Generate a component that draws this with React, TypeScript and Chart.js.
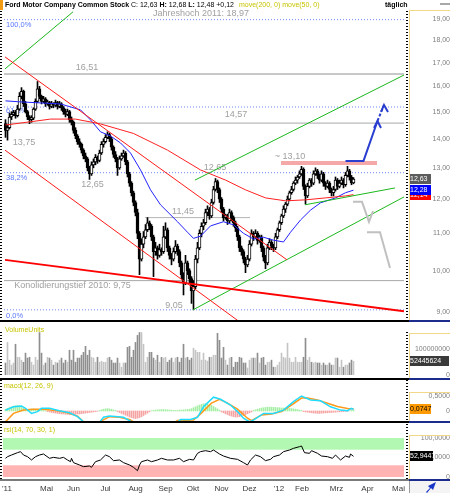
import React, { useEffect, useRef } from 'react';
import { Chart, registerables } from 'chart.js';

Chart.register(...registerables);
const FONT = 'Arial, "Liberation Sans", Helvetica, sans-serif';
Chart.defaults.font.family = FONT;

// ---------------- DATA ----------------
const opens = [14.55,14.30,14.40,14.80,14.90,14.95,14.85,15.10,15.60,15.80, 15.30,15.00,14.80,14.70,14.75,15.10,15.40,15.90,15.60,15.40, 15.50,15.30,15.35,15.20,15.30,15.25,15.35,15.20,15.30,15.15, 15.00,14.90,15.00,14.70,14.60,14.30,14.10,13.90,13.80,13.60, 13.40,13.30,13.00,12.80,13.10,13.20,13.35,13.25,13.50,13.80, 13.90,14.05,14.15,14.00,13.70,13.45,13.30,13.00,13.30,13.40, 13.50,13.20,12.80,12.50,12.20,11.90,11.60,11.00,10.30,10.70, 10.90,11.10,11.30,11.20,10.90,10.50,10.60,10.40,10.55,10.50, 10.90,11.10,10.60,10.40,10.30,10.50,10.65,10.50,10.20,9.90, 9.70,10.20,10.00,9.80,9.50,9.60,10.30,10.60,11.00,11.20, 11.30,11.60,11.70,11.50,11.90,12.30,12.55,12.30,12.00,11.70, 11.45,11.50,11.35,11.60,11.45,11.30,11.15,10.90,10.60,10.50, 10.30,10.15,10.30,10.70,11.00,10.90,11.00,10.80,10.90,10.60, 10.35,10.20,10.60,10.75,10.65,10.60,10.90,11.10,11.30,11.50, 11.70,11.85,12.00,12.20,12.30,12.50,12.60,12.70,12.80,12.95, 12.40,12.10,12.40,12.60,12.50,12.80,12.90,12.75,12.60,12.80, 12.50,12.40,12.50,12.30,12.20,12.30,12.60,12.40,12.50,12.60, 12.45,12.75,12.90,12.70,12.51];
const highs = [14.70,14.50,14.95,15.00,15.05,15.05,15.25,15.75,15.95,15.85, 15.40,15.05,14.85,14.85,15.15,15.50,16.20,16.00,15.65,15.60, 15.55,15.45,15.40,15.40,15.35,15.45,15.40,15.40,15.35,15.20, 15.10,15.10,15.05,14.80,14.65,14.40,14.15,14.00,13.85,13.65, 13.50,13.35,13.05,13.20,13.30,13.45,13.40,13.60,13.90,14.00, 14.15,14.25,14.20,14.05,13.75,13.55,13.35,13.40,13.50,13.60, 13.55,13.25,12.85,12.55,12.25,11.95,11.70,11.05,10.85,11.05, 11.25,11.45,11.35,11.25,10.95,10.75,10.65,10.70,10.60,11.20, 11.30,11.15,10.65,10.45,10.60,10.80,10.70,10.55,10.25,9.95, 10.40,10.25,10.05,9.85,9.75,10.40,10.75,11.10,11.30,11.40, 11.70,11.80,11.75,12.00,12.40,12.65,12.60,12.35,12.05,11.75, 11.55,11.55,11.70,11.65,11.50,11.35,11.20,10.95,10.65,10.55, 10.35,10.40,10.80,11.10,11.05,11.10,11.05,10.95,10.95,10.65, 10.40,10.70,10.85,10.80,10.70,11.00,11.15,11.35,11.55,11.80, 11.90,12.10,12.25,12.40,12.55,12.70,12.75,12.90,13.05,13.00, 12.45,12.50,12.65,12.65,12.90,13.00,12.95,12.80,12.90,12.85, 12.55,12.60,12.55,12.35,12.40,12.70,12.65,12.60,12.70,12.65, 12.85,13.05,12.95,12.75,12.68];
const lows = [14.05,13.95,14.35,14.70,14.85,14.75,14.80,15.05,15.50,15.20, 14.95,14.70,14.55,14.60,14.70,15.05,15.35,15.50,15.30,15.35, 15.20,15.25,15.10,15.15,15.15,15.20,15.10,15.15,15.05,14.90, 14.80,14.85,14.60,14.50,14.20,14.00,13.80,13.70,13.50,13.30, 13.20,12.90,12.62,12.75,13.00,13.10,13.15,13.20,13.45,13.70, 13.85,14.00,13.90,13.60,13.35,13.20,12.75,12.95,13.25,13.35, 13.10,12.70,12.40,12.10,11.80,11.50,10.85,9.90,10.25,10.60, 10.85,11.05,11.10,10.80,9.85,10.40,10.30,10.35,10.40,10.45, 10.85,10.50,10.30,10.15,10.25,10.45,10.40,10.10,9.80,9.40, 9.65,9.90,9.70,9.20,9.05,9.55,10.20,10.55,10.90,11.10, 11.25,11.50,11.40,11.45,11.85,12.25,12.20,11.90,11.60,11.35, 11.40,11.25,11.30,11.35,11.20,11.05,10.80,10.50,10.40,10.20, 9.95,10.10,10.25,10.65,10.80,10.85,10.70,10.75,10.50,10.25, 10.05,10.15,10.55,10.55,10.50,10.55,10.85,11.05,11.25,11.45, 11.60,11.80,11.95,12.15,12.25,12.45,12.50,12.65,12.75,12.30, 11.85,12.05,12.35,12.40,12.45,12.75,12.65,12.50,12.55,12.40, 12.30,12.35,12.20,12.10,12.10,12.25,12.30,12.35,12.45,12.35, 12.40,12.70,12.60,12.45,12.48];
const closes = [14.30,14.40,14.80,14.90,14.95,14.85,15.10,15.60,15.80,15.30, 15.00,14.80,14.70,14.75,15.10,15.40,15.90,15.60,15.40,15.50, 15.30,15.35,15.20,15.30,15.25,15.35,15.20,15.30,15.15,15.00, 14.90,15.00,14.70,14.60,14.30,14.10,13.90,13.80,13.60,13.40, 13.30,13.00,12.80,13.10,13.20,13.35,13.25,13.50,13.80,13.90, 14.05,14.15,14.00,13.70,13.45,13.30,13.00,13.30,13.40,13.50, 13.20,12.80,12.50,12.20,11.90,11.60,11.00,10.30,10.70,10.90, 11.10,11.30,11.20,10.90,10.50,10.60,10.40,10.55,10.50,10.90, 11.10,10.60,10.40,10.30,10.50,10.65,10.50,10.20,9.90,9.70, 10.20,10.00,9.80,9.50,9.60,10.30,10.60,11.00,11.20,11.30, 11.60,11.70,11.50,11.90,12.30,12.55,12.30,12.00,11.70,11.45, 11.50,11.35,11.60,11.45,11.30,11.15,10.90,10.60,10.50,10.30, 10.15,10.30,10.70,11.00,10.90,11.00,10.80,10.90,10.60,10.35, 10.20,10.60,10.75,10.65,10.60,10.90,11.10,11.30,11.50,11.70, 11.85,12.00,12.20,12.30,12.50,12.60,12.70,12.80,12.95,12.40, 12.10,12.40,12.60,12.50,12.80,12.90,12.75,12.60,12.80,12.50, 12.40,12.50,12.30,12.20,12.30,12.60,12.40,12.50,12.60,12.45, 12.75,12.90,12.70,12.51,12.63];
// volume in millions of units
const volumesM = [46,125,57,38,46,118,68,68,57,49, 84,65,68,49,38,68,57,163,84,38, 46,68,65,57,38,49,46,57,65,46, 57,49,95,57,95,49,65,65,76,87, 110,76,95,68,65,49,68,49,53,49, 49,65,68,57,46,46,65,46,30,46, 46,106,110,68,95,125,152,163,163,118, 49,68,87,87,65,57,76,49,68,65, 68,49,57,65,49,65,68,49,65,118, 65,68,57,65,103,95,87,87,57,84, 57,53,68,68,76,76,160,133,65,106, 57,38,65,68,30,49,49,68,65,46, 46,27,57,65,65,65,84,46,65,68, 38,49,49,57,30,30,38,49,84,68, 65,122,65,49,49,68,49,49,49,68, 141,57,68,49,46,49,46,46,38,46, 38,38,46,38,38,65,65,30,57,30, 38,38,46,57,52.445624];

const ma200 = [[0,14.5],[12.5,14.62],[22.5,14.72],[35,14.72],[47.5,14.54],[64,14.19],[81,13.6],[97.5,12.93],[110,12.6],[120,12.29],[130,12.04],[140,11.95],[150,11.98],[160,12.04],[170,12.1],[174,12.14]];
const ma50 = [[0,15.42],[7.5,15.38],[17.5,15.34],[27.5,15.3],[37.5,15.07],[42.5,14.69],[47.5,14.25],[52.5,14.1],[57.5,13.85],[62.5,13.5],[67.5,12.93],[72.5,12.29],[77.5,11.83],[86,11.33],[91,11.03],[94,10.86],[97.5,10.92],[102.5,11.21],[109,11.33],[114,11.24],[119,11.0],[124,10.84],[129,10.89],[134,10.81],[139,10.76],[142.5,11.03],[147.5,11.38],[152.5,11.67],[157.5,11.89],[165,12.04],[170,12.2],[174,12.28]];

const macdLine = [[0,0.03],[4,0.14],[8,0.17],[10,0.09],[13,-0.08],[16,-0.02],[18,0.09],[22,0.09],[27,0.01],[32,-0.06],[36,-0.19],[39,-0.36],[42,-0.5],[45,-0.45],[47,-0.38],[49,-0.21],[52,-0.17],[59,-0.21],[63,-0.36],[67,-0.55],[74,-0.65],[81,-0.5],[86,-0.38],[87.5,-0.28],[92.5,-0.28],[96,-0.21],[99,0.14],[104,0.46],[107.5,0.39],[112.5,0.2],[116,-0.02],[119,-0.24],[122,-0.36],[124,-0.3],[129,-0.08],[134,-0.08],[139,0.03],[144,0.31],[148,0.5],[152.5,0.37],[157.5,0.34],[162.5,0.14],[167.5,0.03],[171,0.01],[173,0.09],[174,0.05]];
const macdSignal = [[0,-0.36],[4,-0.08],[9,0.03],[14,0.06],[19,0.06],[26,0.01],[31,-0.06],[36,-0.17],[39,-0.36],[43,-0.5],[47,-0.36],[52,-0.19],[57,-0.21],[62,-0.28],[64,-0.36],[70,-0.55],[80,-0.55],[86,-0.32],[94,-0.3],[97,-0.13],[103,0.26],[107,0.39],[111,0.26],[116,0.06],[121,-0.24],[123,-0.32],[128,-0.13],[133,-0.1],[138,-0.02],[143,0.2],[148,0.43],[151,0.43],[156,0.37],[161,0.26],[166,0.15],[171,0.08],[174,0.0747]];
const macdHist = [0.06,0.09,0.12,0.14,0.16,0.18,0.19,0.17,0.14,0.10,0.06, 0.05,0.06,0.07,0.07,0.06,0.05,0.04,0.03,0.02,0.01, -0.02,-0.03,-0.05,-0.06,-0.07,-0.08,-0.09,-0.10,-0.10,-0.11,-0.11,-0.12,-0.12,-0.12,-0.11,-0.10,-0.10,-0.09,-0.08,-0.07,-0.06,-0.05,-0.04,-0.03,-0.02,-0.01, 0.02,0.04,0.06,0.07,0.08,0.07,0.06,0.04,0.02, -0.02,-0.05,-0.08,-0.11,-0.14,-0.17,-0.20,-0.22,-0.24,-0.25,-0.24,-0.22,-0.19,-0.15,-0.11,-0.07,-0.03, 0.01,0.02,0.03,0.04,0.04,0.05,0.05,0.04,0.04,0.03,0.03,0.02,0.02,0.02,0.03,0.03,0.04,0.04,0.05,0.06, 0.08,0.11,0.14,0.17,0.20,0.22,0.24,0.25,0.24,0.22,0.19,0.15,0.11,0.07,0.03, -0.03,-0.06,-0.09,-0.12,-0.15,-0.17,-0.19,-0.20,-0.20,-0.19,-0.17,-0.15,-0.12,-0.09,-0.06,-0.03, 0.02,0.04,0.06,0.08,0.10,0.11,0.12,0.13,0.13,0.13,0.12,0.12,0.11,0.11,0.10,0.10,0.10,0.09,0.09,0.08,0.07,0.06,0.05,0.03,0.02, -0.02,-0.03,-0.04,-0.05,-0.06,-0.07,-0.07,-0.08,-0.08,-0.07,-0.07,-0.06,-0.06,-0.05,-0.05,-0.04,-0.04,-0.03,-0.03,-0.02,-0.02,-0.01,-0.01,0.00, 0.02,0.03];

const rsiLine = [[0,47.9],[1,52.1],[3,56.4],[6,62.4],[7.5,65],[9,56.4],[11,52.1],[13,43.6],[15,52.1],[17,56.4],[19,59],[22,47.9],[24,50.4],[27,47.9],[29,50.4],[31,43.6],[32.5,39.3],[33,47.9],[34,36.8],[37,30.8],[39,26.5],[42,28.2],[43,24.8],[45,39.3],[47.5,43.6],[50,56.4],[52,52.1],[54,41.9],[57,43.6],[59,36.8],[62,30.8],[64,24.8],[66,16.2],[67,30.8],[68,39.3],[71,43.6],[73,39.3],[76,43.6],[78,47.9],[81,43.6],[84,43.6],[87,47.9],[89,39.3],[92,45.3],[94,43.6],[96,60.7],[97.5,65],[100,67.5],[102.5,65],[104,69.2],[107,59],[109,53.8],[112.5,47.9],[116,45.3],[119,36.8],[121,30.8],[122.5,43.6],[125,56.4],[127.5,52.1],[130,41.9],[132.5,45.3],[134,52.1],[137,56.4],[139,65],[142,69.2],[144,73.5],[147,77.8],[148,79.5],[149.5,62.4],[152,60.7],[153,67.5],[156,60.7],[158,53.8],[161,52.1],[163.5,47.9],[165,56.4],[167.5,43.6],[170,53.8],[172,50.4],[172.5,59],[174,52.9447]];

const priceTicks = [9,10,11,12,13,14,15,16,17,18,19];
const monthTicks = [0.75,20.5,34,50,65,80,93.75,108,122,136.75,148.25,165.5,181,196.5];
const monthLabels = ["'11",'Mai','Jun','Jul','Aug','Sep','Okt','Nov','Dez',"'12",'Feb','Mrz','Apr','Mai'];

const fibLevels = [18.97, 15.18, 12.84, 9.05];
const lastClose = 12.63, lastMa50 = 12.28, lastMa200 = 12.14;
const lastVolume = 52.445624, lastMacd = 0.0747, lastRsi = 52.9447;

// annotation lines in (bar index, price)
const redUpper = [[-0.25,17.25],[140.75,10.28]];
const redLower = [[-0.25,13.6],[117.25,8.77]];
const redSupport = [[-0.25,10.28],[199.25,9.02]];
const greenTopLeft = [[-0.25,16.73],[33.75,19.35]];
const greenUpper = [[94.75,12.6],[199.25,16.47]];
const greenLower = [[93.75,9.05],[199.25,12.07]];
const greenShort = [[149.75,11.83],[194.75,12.35]];
const resistance = [[137.75,13.16],[185.75,13.16]];
const level1145 = [[69.75,11.45],[122.25,11.45]];
const blueArrow = [[170,13.23],[179,13.23],[186,14.65]];
const blueHead1 = [[184.25,14.39],[186,14.65],[187.75,14.39]];
const blueDash = [[186,14.65],[189.25,15.26]];
const blueHead2 = [[187.75,14.99],[189.25,15.26],[191.25,14.99]];
const grayPath1 = [[173.75,11.92],[178.25,11.92],[181.75,11.33],[183.75,11.64]];
const grayPath2 = [[180.75,11.03],[187.25,11.03],[192.25,10.07]];

const mainLabels: [string, number, number, string, string][] = [
  ['Jahreshoch 2011: 18,97', 97.75, 19.25, 'g', 'center'],
  ['16,51', 40.75, 16.77, 'g', 'center'],
  ['100,0%', 0.25, 18.72, 'b', 'left'],
  ['61,8%', 0.25, 15.03, 'b', 'left'],
  ['13,75', 9.25, 13.85, 'g', 'center'],
  ['14,57', 115.25, 14.88, 'g', 'center'],
  ['12,65', 43.5, 12.47, 'g', 'center'],
  ['38,2%', 0.25, 12.67, 'b', 'left'],
  ['12,65', 104.75, 13.0, 'g', 'center'],
  ['11,45', 88.75, 11.62, 'g', 'center'],
  ['~ 13,10', 142.25, 13.37, 'g', 'center'],
  ['Konolidierungstief 2010: 9,75', 33.5, 9.62, 'g', 'center'],
  ['9,05', 84.25, 9.16, 'g', 'center'],
  ['0,0%', 0.25, 8.91, 'b', 'left'],
];

// ---------------- HELPERS ----------------
const XMIN = -0.75, XMAX = 199.25;
const idx = closes.map((_, i) => i);
const fmt = (v: number, d: number) => v.toFixed(d).replace('.', ',');
const FIB = '#7088ff';

const lineDs = (pts: number[][], color: string, width: number, order: number, dash: number[] = []) => ({
  type: 'line',
  data: pts.map(([x, y]) => ({ x, y })),
  borderColor: color, borderWidth: width, borderDash: dash,
  pointRadius: 0, fill: false, tension: 0, order, borderCapStyle: 'butt',
});

const common = (padTop: number, padBottom: number) => ({
  responsive: false, animation: false, devicePixelRatio: 1, events: [],
  layout: { padding: { left: 4, right: 0, top: padTop, bottom: padBottom } },
  plugins: { legend: { display: false }, tooltip: { enabled: false } },
});

const hiddenX = () => ({ type: 'linear', min: XMIN, max: XMAX, display: false, offset: false, bounds: 'data' });

const rightAxis = (extra: any, tickExtra: any) => ({
  position: 'right', bounds: 'data',
  grid: { display: false, drawTicks: false }, border: { display: false },
  afterFit: (s: any) => { s.width = 46; s.paddingTop = 0; s.paddingBottom = 0; },
  ...extra,
  ticks: { font: { size: 7 }, color: '#808080', crossAlign: 'far', autoSkip: false, ...tickExtra },
});

const sideTicks = {
  id: 'sideTicks',
  afterDraw(chart: any) {
    const { ctx, chartArea: a } = chart;
    ctx.save();
    ctx.strokeStyle = '#000'; ctx.lineWidth = 2; ctx.setLineDash([1, 2]);
    ctx.beginPath(); ctx.moveTo(1, a.top); ctx.lineTo(1, a.bottom); ctx.stroke();
    ctx.beginPath(); ctx.moveTo(407, a.top); ctx.lineTo(407, a.bottom); ctx.stroke();
    ctx.restore();
  },
};

const valueBoxes = (boxes: { v: number; t: string; bg: string; fg: string; w: number }[]) => ({
  id: 'valueBoxes',
  afterDraw(chart: any) {
    const { ctx, scales, chartArea } = chart;
    ctx.save();
    ctx.font = `7px ${FONT}`; ctx.textBaseline = 'middle'; ctx.textAlign = 'left';
    for (const b of boxes) {
      const py = Math.round(scales.y.getPixelForValue(b.v));
      const x0 = chartArea.right + 5;
      ctx.fillStyle = b.bg; ctx.fillRect(x0, py - 5, b.w, 10);
      ctx.fillStyle = b.fg; ctx.fillText(b.t, x0 + 1, py + 0.5);
    }
    ctx.restore();
  },
});

const labelsPlugin = {
  id: 'mainLabels',
  beforeDatasetsDraw(chart: any) {
    const { ctx, scales } = chart;
    ctx.save();
    ctx.textBaseline = 'middle';
    for (const [t, x, y, c, a] of mainLabels) {
      ctx.font = c === 'b' ? `7.5px ${FONT}` : `9px ${FONT}`;
      ctx.fillStyle = c === 'b' ? '#5a78ff' : '#a0a0a0';
      ctx.textAlign = a;
      ctx.fillText(t, scales.x.getPixelForValue(x), scales.y.getPixelForValue(y));
    }
    ctx.restore();
  },
};

const rsiBands = {
  id: 'rsiBands',
  beforeDatasetsDraw(chart: any) {
    const { ctx, scales: { y }, chartArea: a } = chart;
    ctx.save();
    ctx.fillStyle = '#b2f8b2';
    const g1 = y.getPixelForValue(100), g2 = y.getPixelForValue(70);
    ctx.fillRect(a.left - 1, g1, a.right - a.left + 1, g2 - g1);
    ctx.fillStyle = '#ffb3b3';
    const r1 = y.getPixelForValue(30), r2 = y.getPixelForValue(0);
    ctx.fillRect(a.left - 1, r1, a.right - a.left + 1, r2 - r1);
    ctx.restore();
  },
};

// ---------------- CONFIGS ----------------
function buildMain() {
  const datasets: any[] = [
    ...fibLevels.map((v) => lineDs([[XMIN, v], [XMAX, v]], FIB, 1, 9, [1, 2])),
    lineDs([[XMIN, 16.51], [XMAX, 16.51]], '#c8c8c8', 2, 9),
    lineDs([[XMIN, 14.57], [XMAX, 14.57]], '#a8a8a8', 1, 9),
    lineDs([[XMIN, 9.75], [XMAX, 9.75]], '#a8a8a8', 1, 9),
    lineDs(level1145, '#b4b4b4', 1, 9),
    lineDs(resistance, '#f5a8a8', 4, 7),
    {
      type: 'bar', data: idx.map((i) => ({ x: i, y: [lows[i], highs[i]] })),
      backgroundColor: '#000', barThickness: 1, grouped: false, order: 6,
    },
    {
      type: 'bar', data: idx.map((i) => ({ x: i, y: [opens[i], closes[i]] })),
      backgroundColor: idx.map((i) => (closes[i] >= opens[i] ? '#ffffff' : '#000000')),
      borderColor: '#000', borderWidth: 1, borderSkipped: false, barThickness: 3,
      grouped: false, minBarLength: 2, order: 5,
    },
    lineDs(ma200, '#ff2020', 1, 3),
    lineDs(ma50, '#2222ff', 1, 3),
    lineDs(redUpper, '#ff1a1a', 1, 2),
    lineDs(redLower, '#ff1a1a', 1, 2),
    lineDs(redSupport, '#ff0000', 2, 2),
    lineDs(greenTopLeft, '#1cb81c', 1, 2),
    lineDs(greenUpper, '#1cb81c', 1, 2),
    lineDs(greenLower, '#1cb81c', 1, 2),
    lineDs(greenShort, '#1cb81c', 1, 2),
    lineDs(grayPath1, '#c0c0c0', 2, 1),
    lineDs(grayPath2, '#c0c0c0', 2, 1),
    lineDs(blueArrow, '#2a3fd0', 2, 0),
    lineDs(blueHead1, '#2a3fd0', 2, 0),
    lineDs(blueDash, '#2a3fd0', 2, 0, [3, 2]),
    lineDs(blueHead2, '#2a3fd0', 2, 0),
  ];
  return {
    type: 'bar',
    data: { datasets },
    options: {
      ...common(11, 0),
      scales: {
        x: hiddenX(),
        y: rightAxis(
          {
            type: 'logarithmic', min: 8.8185, max: 19.392,
            afterBuildTicks: (s: any) => { s.ticks = priceTicks.map((v) => ({ value: v })); },
          },
          { padding: 27, callback: (v: number) => fmt(v, 2) },
        ),
      },
    },
    plugins: [labelsPlugin, sideTicks, valueBoxes([
      { v: lastMa200, t: fmt(lastMa200, 2), bg: '#ff0000', fg: '#fff', w: 22 },
      { v: lastMa50, t: fmt(lastMa50, 2), bg: '#0000ff', fg: '#fff', w: 22 },
      { v: lastClose, t: fmt(lastClose, 2), bg: '#5c5c5c', fg: '#fff', w: 22 },
    ])],
  };
}

function buildVolume() {
  return {
    type: 'bar',
    data: {
      datasets: [{
        data: idx.map((i) => ({ x: i, y: volumesM[i] })),
        backgroundColor: idx.map((i) => (closes[i] >= opens[i] ? '#c4c4c4' : '#8e8e8e')),
        barThickness: 1, grouped: false,
      }],
    },
    options: {
      ...common(10, 3),
      scales: {
        x: hiddenX(),
        y: rightAxis(
          { type: 'linear', min: 0, max: 165, afterBuildTicks: (s: any) => { s.ticks = [0, 100].map((v) => ({ value: v })); } },
          { padding: 10, callback: (v: number) => (v === 0 ? '0' : String(v * 1000000)) },
        ),
      },
    },
    plugins: [sideTicks, valueBoxes([{ v: lastVolume, t: String(Math.round(lastVolume * 1000000)), bg: '#3a3a3a', fg: '#fff', w: 40 }])],
  };
}

function buildMacd() {
  return {
    type: 'bar',
    data: {
      datasets: [
        {
          data: idx.map((i) => ({ x: i, y: macdHist[i] })),
          backgroundColor: idx.map((i) => (macdHist[i] >= 0 ? '#a6eea6' : '#f5a3a3')),
          barThickness: 1, grouped: false, order: 3,
        },
        lineDs(macdSignal, '#ff9a1a', 1.5, 2),
        lineDs(macdLine, '#22dcff', 1.5, 1),
      ],
    },
    options: {
      ...common(0, 0),
      scales: {
        x: hiddenX(),
        y: rightAxis(
          { type: 'linear', min: -0.3333, max: 1.0333, afterBuildTicks: (s: any) => { s.ticks = [0, 0.5].map((v) => ({ value: v })); } },
          { padding: 23.5, callback: (v: number) => (v === 0 ? '0' : fmt(v, 4)) },
        ),
      },
    },
    plugins: [sideTicks, valueBoxes([{ v: lastMacd, t: fmt(lastMacd, 4), bg: '#ff9900', fg: '#000', w: 22 }])],
  };
}

function buildRsi() {
  return {
    type: 'line',
    data: { datasets: [lineDs(rsiLine, '#000', 1, 1)] },
    options: {
      ...common(1, 0),
      scales: {
        x: {
          type: 'linear', min: XMIN, max: XMAX, offset: false, bounds: 'data',
          grid: { display: false, drawTicks: false }, border: { display: false },
          afterBuildTicks: (s: any) => { s.ticks = monthTicks.map((v) => ({ value: v })); },
          afterFit: (s: any) => { s.height = 15; s.paddingLeft = 0; s.paddingRight = 0; },
          ticks: { autoSkip: false, maxRotation: 0, minRotation: 0, padding: 5, font: { size: 8 }, color: '#3a3a3a', callback: (_v: number, i: number) => monthLabels[i] },
        },
        y: rightAxis(
          { type: 'linear', min: -5.13, max: 135.9, afterBuildTicks: (s: any) => { s.ticks = [0, 50, 100].map((v) => ({ value: v })); } },
          { padding: 15.5, callback: (v: number) => (v === 0 ? '0' : fmt(v, 4)) },
        ),
      },
    },
    plugins: [rsiBands, sideTicks, valueBoxes([{ v: lastRsi, t: fmt(lastRsi, 4), bg: '#000', fg: '#fff', w: 24 }])],
  };
}

// ---------------- COMPONENTS ----------------
function ChartCanvas({ top, height, build }: { top: number; height: number; build: () => any }) {
  const ref = useRef<HTMLCanvasElement>(null);
  useEffect(() => {
    const chart = new Chart(ref.current as HTMLCanvasElement, build());
    return () => chart.destroy();
  }, []);
  return <canvas ref={ref} width={450} height={height} style={{ position: 'absolute', left: 0, top, width: 450, height }} />;
}

const Box = ({ l, t, w, h, bg }: { l: number; t: number; w: number; h: number; bg: string }) => (
  <div style={{ position: 'absolute', left: l, top: t, width: w, height: h, background: bg }} />
);

const txt = (l: number, t: number, color: string, bold = false): React.CSSProperties => ({
  position: 'absolute', left: l, top: t, fontSize: 7, lineHeight: '10px', color, fontWeight: bold ? 'bold' : 'normal', whiteSpace: 'nowrap',
});

export default function App() {
  const YEL = '#f0d78a', NAVY = '#1c2c8c', OLIVE = '#c8c400';
  return (
    <div style={{ position: 'absolute', left: 0, top: 0, width: 450, height: 494, background: '#fff', overflow: 'hidden', fontFamily: FONT }}>
      <ChartCanvas top={0} height={320} build={buildMain} />
      <ChartCanvas top={322} height={56} build={buildVolume} />
      <ChartCanvas top={380} height={41} build={buildMacd} />
      <ChartCanvas top={423} height={71} build={buildRsi} />

      {/* header */}
      <Box l={0} t={0} w={3} h={10} bg="#f39c12" />
      <div style={txt(5, 0, '#000')}>
        <b>Ford Motor Company Common Stock</b> C: 12,63 <b>H:</b> 12,68 <b>L:</b> 12,48 +0,12
        <span style={{ color: OLIVE, marginLeft: 5 }}>move(200, 0) move(50, 0)</span>
      </div>
      <div style={txt(385, 0, '#000', true)}>täglich</div>
      <Box l={440} t={3} w={10} h={2} bg="#a8a8a8" />

      {/* panel labels */}
      <div style={txt(5, 325, OLIVE)}>VolumeUnits</div>
      <div style={txt(4, 381, OLIVE)}>macd(12, 26, 9)</div>
      <div style={txt(4, 425, OLIVE)}>rsi(14, 70, 30, 1)</div>

      {/* separators */}
      <Box l={0} t={320} w={409} h={2} bg="#000" />
      <Box l={409} t={320} w={41} h={2} bg={NAVY} />
      <Box l={0} t={378} w={409} h={2} bg="#000" />
      <Box l={409} t={378} w={41} h={2} bg={NAVY} />
      <Box l={0} t={421} w={409} h={2} bg="#000" />
      <Box l={409} t={421} w={41} h={2} bg={NAVY} />
      <Box l={0} t={479} w={409} h={2} bg="#7a7a7a" />
      <Box l={409} t={479} w={41} h={2} bg={NAVY} />

      {/* right axis frames */}
      <Box l={409} t={10} w={1} h={310} bg={YEL} />
      <Box l={409} t={10} w={41} h={1} bg={YEL} />
      <Box l={409} t={333} w={1} h={45} bg={YEL} />
      <Box l={409} t={333} w={41} h={1} bg={YEL} />
      <Box l={409} t={392} w={1} h={29} bg={YEL} />
      <Box l={409} t={392} w={41} h={1} bg={YEL} />
      <Box l={409} t={435} w={1} h={44} bg={YEL} />
      <Box l={409} t={435} w={41} h={1} bg={YEL} />

      {/* bottom right button */}
      <div style={{ position: 'absolute', left: 409, top: 481, width: 40, height: 12, borderLeft: '1px solid #9a9a9a', background: '#f4f4f4' }}>
        <svg width="14" height="12" style={{ position: 'absolute', left: 14, top: 0 }}>
          <path d="M2 11 L6 7 L4 5 L12 1 L9 9 L7 7 L3 12 Z" fill="#1a36c8" />
        </svg>
      </div>
    </div>
  );
}
